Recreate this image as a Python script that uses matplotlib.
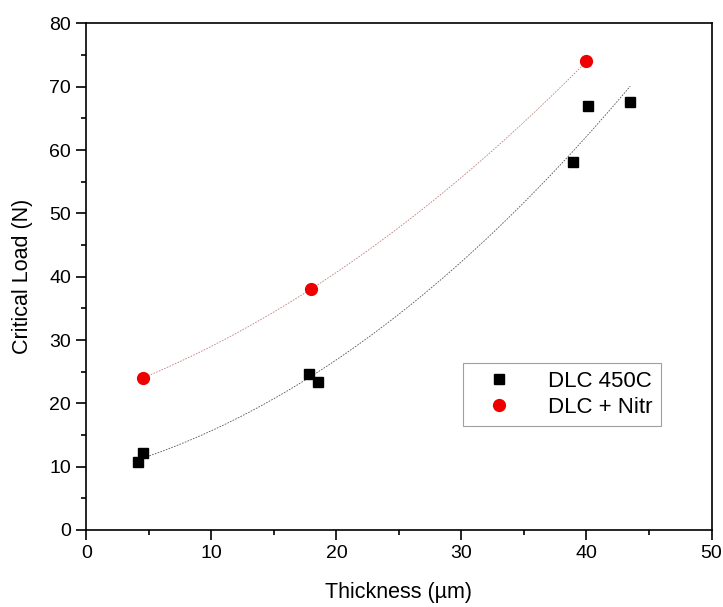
import numpy as np
import matplotlib
matplotlib.use("Agg")
import matplotlib.pyplot as plt

plt.rcParams['font.family'] = ['Liberation Sans', 'DejaVu Sans']

# DLC 450C
espessura_450 = [4.15, 4.5, 17.8, 18.5, 38.9, 40.1, 43.5]
carga_450 = [10.7, 12.1, 24.7, 23.4, 58.2, 67.0, 67.6]
# DLC + Nitr
espessura_nitr = [4.5, 18.0, 40.0]
carga_nitr = [24.0, 38.1, 74.0]

fig = plt.figure(figsize=(7.23, 6.07), dpi=100)
ax = fig.add_axes([0.1196, 0.1269, 0.8645, 0.8344])

# ajuste polinomial de 2a ordem
for xs, ys, cor in [(espessura_450, carga_450, "#555555"), (espessura_nitr, carga_nitr, "#c08080")]:
    coef = np.polyfit(xs, ys, 2)
    xf = np.linspace(min(xs), max(xs), 200)
    ax.plot(xf, np.polyval(coef, xf), linestyle=(0, (2, 1.5)), color=cor, linewidth=0.6)

ax.plot(espessura_450, carga_450, linestyle="none", marker="s", markersize=7.5,
        color="black", label="DLC 450C")
ax.plot(espessura_nitr, carga_nitr, linestyle="none", marker="o", markersize=8.5,
        color="#ee0000", label="DLC + Nitr")

ax.set_xlim(0, 50)
ax.set_ylim(0, 80)
ax.set_xticks(np.arange(0, 51, 10))
ax.set_yticks(np.arange(0, 81, 10))
ax.set_xticks(np.arange(5, 50, 10), minor=True)
ax.set_yticks(np.arange(5, 80, 10), minor=True)
ax.tick_params(which="major", direction="out", length=7, width=1.2, labelsize=14, pad=4)
ax.tick_params(which="minor", direction="out", length=3.5, width=1.2)
for s in ax.spines.values():
    s.set_linewidth(1.2)

ax.set_xlabel("Thickness (\u00b5m)", fontsize=15.5, labelpad=14)
ax.set_ylabel("Critical Load (N)", fontsize=15.5, labelpad=12)

leg = ax.legend(loc="upper left", bbox_to_anchor=(0.602, 0.33), fontsize=16,
                frameon=True, fancybox=False, edgecolor="#888888",
                handletextpad=0.9, borderpad=0.35, labelspacing=0.25,
                handlelength=2.6, borderaxespad=0, markerfirst=True)
leg.get_frame().set_linewidth(0.8)

plt.savefig("out.png", dpi=100)
